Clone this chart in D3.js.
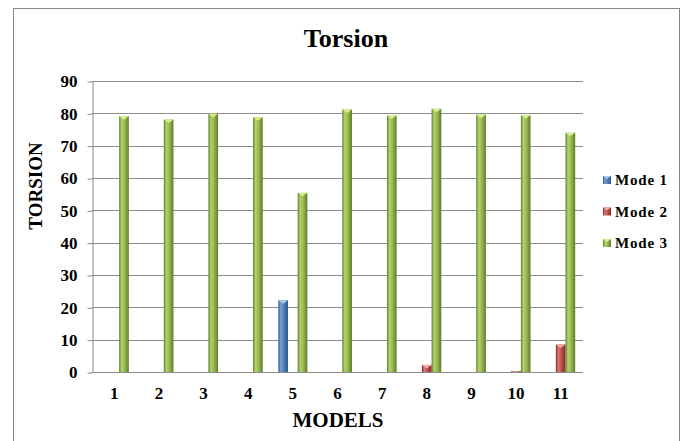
<!DOCTYPE html>
<html><head><meta charset="utf-8">
<script src="https://cdn.jsdelivr.net/npm/d3@7"></script>
<style>
html,body{margin:0;padding:0;background:#fff;}
</style></head>
<body><svg id="c" width="683" height="441"></svg>
<script>
const categories = ["1","2","3","4","5","6","7","8","9","10","11"];
const seriesNames = ["Mode 1","Mode 2","Mode 3"];
const mode1 = [0,0,0,0,22.2,0,0,0,0,0,0];
const mode2 = [0,0,0,0,0,0,0,2.2,0,0.3,8.5];
const mode3 = [79.1,78.1,79.9,78.8,55.4,81.2,79.3,81.4,79.6,79.4,74.0];
const yTicks = [0,10,20,30,40,50,60,70,80,90];
const colors = {
  "Mode 1": {base:"#4f81bd", dark:"#2b5689", light:"#7aa3d6", top:"#a9c8ee"},
  "Mode 2": {base:"#c0504d", dark:"#8a2725", light:"#d97b78", top:"#eeaaa8"},
  "Mode 3": {base:"#9bbb59", dark:"#5f7d25", light:"#b3d36c", top:"#d6ef8c"}
};
const seriesData = [mode1, mode2, mode3];
const FONT = "'Liberation Serif', 'Times New Roman', serif";

const svg = d3.select("#c");
const plot = {left:92, right:583, top:81, bottom:372};

function styleText(sel, size){
  return sel.style("font-family",FONT).style("font-weight","bold").style("font-size",size+"px").attr("fill","#000");
}

// outer border
svg.append("rect").attr("x",13.5).attr("y",8.5).attr("width",666).attr("height",460)
  .attr("fill","#fff").attr("stroke","#868686").attr("stroke-width",1);

// gradients
const defs = svg.append("defs");
seriesNames.forEach((s,i)=>{
  const c = colors[s];
  const g = defs.append("linearGradient").attr("id","g"+i).attr("x1","0").attr("x2","1").attr("y1","0").attr("y2","0");
  g.append("stop").attr("offset","0%").attr("stop-color",c.dark);
  g.append("stop").attr("offset","25%").attr("stop-color",c.light);
  g.append("stop").attr("offset","55%").attr("stop-color",c.base);
  g.append("stop").attr("offset","100%").attr("stop-color",c.dark);
});

const y = d3.scaleLinear().domain([0,90]).range([plot.bottom, plot.top]);
const x0 = d3.scaleBand().domain(categories).range([plot.left, plot.right]).paddingInner(0.35).paddingOuter(0.175);
const x1 = d3.scaleBand().domain(seriesNames).range([0, x0.bandwidth()]);

// gridlines
svg.append("g").selectAll("line").data(yTicks.filter(t=>t>0)).join("line")
  .attr("x1",plot.left).attr("x2",plot.right)
  .attr("y1",d=>Math.round(y(d))+0.5).attr("y2",d=>Math.round(y(d))+0.5)
  .attr("stroke","#8c8c8c").attr("stroke-width",1);

// y axis
const yAxis = d3.axisLeft(y).tickValues(yTicks).tickSize(5).tickPadding(10).tickSizeOuter(0);
const gy = svg.append("g").attr("transform",`translate(${plot.left+0.5},0.5)`).call(yAxis)
  .attr("font-family",null).attr("font-size",null);
gy.select(".domain").attr("stroke","#8c8c8c");
gy.selectAll(".tick line").attr("stroke","#8c8c8c");
styleText(gy.selectAll("text"),17);

// bars
const groups = svg.append("g").selectAll("g").data(categories).join("g")
  .attr("transform",d=>`translate(${x0(d)},0)`);
seriesNames.forEach((s,si)=>{
  const vals = seriesData[si];
  const bw = x1.bandwidth();
  groups.each(function(cat,ci){
    const v = vals[ci];
    if(!(v>0)) return;
    const g = d3.select(this);
    const bx = x1(s), by = y(v), bh = y(0)-y(v);
    g.append("rect").attr("x",bx).attr("y",by).attr("width",bw).attr("height",bh)
      .attr("fill",`url(#g${si})`);
    const th = Math.min(3.5, bh);
    g.append("polygon")
      .attr("points",`${bx},${by} ${bx+bw},${by} ${bx+bw/2},${by+th}`)
      .attr("fill",colors[s].top);
  });
});

// x axis line
svg.append("line").attr("x1",plot.left).attr("x2",plot.right)
  .attr("y1",Math.round(y(0))+0.5).attr("y2",Math.round(y(0))+0.5).attr("stroke","#8c8c8c");

// x labels
styleText(svg.append("g").selectAll("text").data(categories).join("text")
  .attr("x",d=>x0(d)+x0.bandwidth()/2).attr("y",399)
  .attr("text-anchor","middle").text(d=>d),17);

// titles
styleText(svg.append("text").attr("x",346).attr("y",47).attr("text-anchor","middle").text("Torsion"),26);
styleText(svg.append("text").attr("x",338).attr("y",427).attr("text-anchor","middle").text("MODELS"),21);
styleText(svg.append("text").attr("transform","translate(42,186) rotate(-90)").attr("text-anchor","middle").text("TORSION"),19);

// legend
const leg = svg.append("g").selectAll("g").data(seriesNames).join("g")
  .attr("transform",(d,i)=>`translate(603,${180+i*31.5})`);
leg.append("rect").attr("x",0).attr("y",-4).attr("width",8).attr("height",8)
  .attr("fill",(d,i)=>`url(#g${i})`);
leg.append("polygon").attr("points","0,-4 8,-4 4,-1").attr("fill",d=>colors[d].top);
styleText(leg.append("text").attr("x",12).attr("y",5).style("letter-spacing","0.8px").text(d=>d),15);
</script></body></html>
